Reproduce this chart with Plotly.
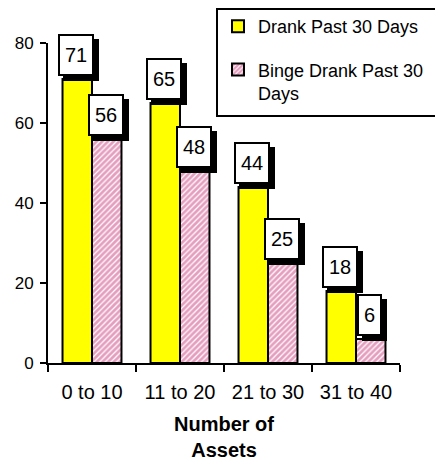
import plotly.graph_objects as go

categories = ["0 to 10", "11 to 20", "21 to 30", "31 to 40"]
drank = [71, 65, 44, 18]
binge = [56, 48, 25, 6]
series_names = ["Drank Past 30 Days", "Binge Drank Past 30<br>Days"]
y_ticks = [0, 20, 40, 60, 80]

FONT = "Arial, Liberation Sans, sans-serif"
PAGE = 8  # default body margin of the html page
W, H = 443 - PAGE, 461 - PAGE
L, R, T, B = 48 - PAGE, 43, 43 - PAGE, 98
PW, PH = W - L - R, H - T - B


def px_to_paper_x(px):
    return (px - PAGE - L) / PW


def px_to_paper_y(py):
    return (H - B - (py - PAGE)) / PH


fig = go.Figure()
fig.add_trace(go.Bar(
    x=categories, y=drank, name=series_names[0], legendgroup="a",
    marker=dict(color="#FFFF00", line=dict(color="black", width=2)),
))
fig.add_trace(go.Bar(
    x=categories, y=binge, name=series_names[1], legendgroup="b",
    marker=dict(color="white", line=dict(color="black", width=2),
                pattern=dict(shape="/", fgcolor="#cc3d7e", bgcolor="white",
                             size=4, solidity=0.7)),
))

bargap = 0.33
half = (1 - bargap) / 4
annotations = []
for vals, off in ((drank, -half), (binge, half)):
    for i, v in enumerate(vals):
        txt = str(v)
        tw = round(11.1 * len(txt))
        common = dict(x=i + off, y=v, xref="x", yref="y",
                      showarrow=False, yanchor="bottom", xanchor="center",
                      borderwidth=2, borderpad=5, height=28, width=tw,
                      font=dict(family=FONT, size=20, color="black"))
        annotations.append(dict(common, text=" ", bgcolor="black",
                                bordercolor="black", xshift=4, yshift=-2))
        annotations.append(dict(common, text=txt, bgcolor="white",
                                bordercolor="black", xshift=-1, yshift=3))

lx0, ly0, lx1, ly1 = 217, 9, 441, 116
shapes = [dict(type="rect", xref="paper", yref="paper",
               x0=px_to_paper_x(lx0), x1=px_to_paper_x(lx1),
               y0=px_to_paper_y(ly1), y1=px_to_paper_y(ly0),
               line=dict(color="black", width=2), fillcolor="rgba(0,0,0,0)")]

fig.update_layout(
    width=W, height=H,
    margin=dict(l=L, r=R, t=T, b=B, autoexpand=False),
    paper_bgcolor="white", plot_bgcolor="white",
    barmode="group", bargap=bargap, bargroupgap=0,
    font=dict(family=FONT, color="black"),
    showlegend=True,
    legend=dict(x=px_to_paper_x(lx0 + 1), y=px_to_paper_y(PAGE),
                xanchor="left", yanchor="top",
                font=dict(family=FONT, size=18, color="black"),
                bgcolor="rgba(0,0,0,0)", borderwidth=0,
                traceorder="grouped", tracegroupgap=17, valign="top"),
    annotations=annotations,
    shapes=shapes,
    xaxis=dict(type="category", range=[-0.5, 3.5], tickson="boundaries",
               automargin=False,
               ticks="outside", ticklen=7, tickwidth=2, tickcolor="black",
               ticklabelstandoff=10,
               showline=True, linecolor="black", linewidth=2,
               showgrid=False, zeroline=False,
               tickfont=dict(family=FONT, size=20, color="black"),
               title=dict(text="<b>Number of<br>Assets</b>",
                          font=dict(family=FONT, size=20, color="black"),
                          standoff=16)),
    yaxis=dict(range=[0, 80], tickvals=y_ticks, automargin=False,
               ticks="outside", ticklen=6, tickwidth=2, tickcolor="black",
               ticklabelstandoff=3,
               showline=True, linecolor="black", linewidth=2,
               showgrid=False, zeroline=False,
               tickfont=dict(family=FONT, size=17, color="black")),
)

fig.write_html("out.html")
